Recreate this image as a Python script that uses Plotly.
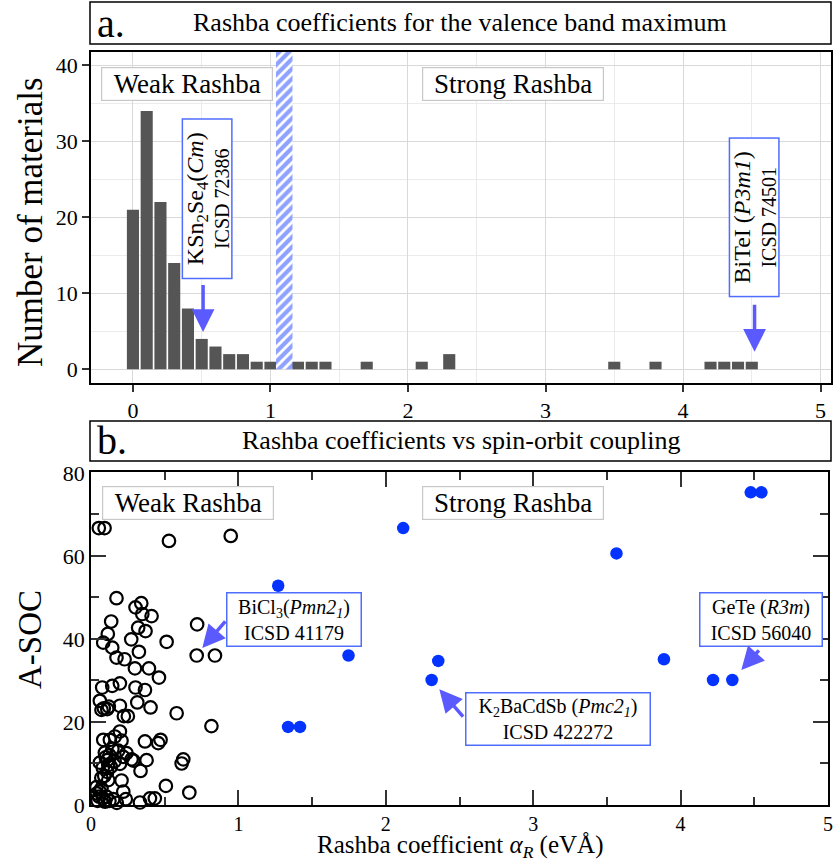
import plotly.graph_objects as go

# ---------------- data ----------------
# Panel a: histogram of Rashba coefficients (bin centres, counts)
hist_bins = [0.0, 0.1, 0.2, 0.3, 0.4, 0.5, 0.6, 0.7, 0.8, 0.9, 1.0,
             1.2, 1.3, 1.4, 1.7, 2.1, 2.3, 3.5, 3.8, 4.2, 4.3, 4.4, 4.5]
hist_counts = [21, 34, 22, 14, 8, 4, 3, 2, 2, 1, 1,
               1, 1, 1, 1, 1, 2, 1, 1, 1, 1, 1, 1]
threshold = 1.1  # weak / strong Rashba boundary

# Panel b: Rashba coefficient vs A-SOC
weak_x = [0.053, 0.092, 0.529, 0.948,
          0.173, 0.302, 0.341, 0.348, 0.411, 0.137,
          0.320, 0.370, 0.114, 0.720, 0.273, 0.513, 0.083,
          0.144, 0.325, 0.717, 0.841, 0.173, 0.228,
          0.298, 0.393, 0.461, 0.076, 0.144, 0.196, 0.302, 0.366,
          0.060, 0.087, 0.121, 0.196, 0.314, 0.404, 0.581, 0.223, 0.250, 0.817,
          0.071, 0.110,
          0.196, 0.083, 0.128, 0.162, 0.207, 0.366, 0.456, 0.472,
          0.094, 0.185, 0.241, 0.219, 0.275, 0.287, 0.060, 0.110, 0.117, 0.196,
          0.377, 0.626, 0.615, 0.336, 0.110, 0.117, 0.207, 0.508, 0.037, 0.071,
          0.056, 0.105, 0.151, 0.219, 0.236, 0.332, 0.400, 0.433, 0.667, 0.083, 0.060,
          0.100, 0.125, 0.080, 0.135, 0.090, 0.160, 0.045, 0.095, 0.125, 0.040,
          0.175, 0.145, 0.070]
weak_y = [66.7, 66.7, 63.6, 64.8,
          49.8, 47.6, 48.6, 46.0, 45.5, 44.2,
          42.7, 41.9, 41.2, 43.5, 39.9, 39.3, 39.1,
          37.9, 36.9, 36.0, 36.0, 35.5, 35.1,
          32.9, 32.9, 30.7, 28.3, 28.7, 29.3, 28.3, 27.7,
          25.1, 23.3, 23.7, 23.9, 24.7, 23.5, 22.1, 21.4, 21.4, 19.0,
          22.9, 23.1,
          17.7, 15.7, 15.7, 16.5, 15.5, 15.3, 14.9, 15.7,
          12.6, 13.1, 12.5, 11.6, 11.0, 10.7, 10.2, 10.8, 9.6, 9.9,
          10.8, 11.0, 10.0, 8.2, 8.0, 6.0, 5.9, 4.6, 4.3, 4.0,
          2.0, 2.0, 1.4, 3.2, 1.4, 0.6, 1.6, 1.6, 3.0, 1.6, 3.2,
          11.5, 12.0, 9.0, 9.2, 7.0, 10.5, 1.0, 0.8, 1.0, 2.8,
          0.5, 13.5, 6.5]
strong_x = [1.27, 1.747, 1.337, 1.418, 2.118, 3.565, 4.476, 4.548,
            2.356, 2.311, 3.887, 4.22, 4.351]
strong_y = [52.8, 36.0, 18.8, 18.8, 66.7, 60.6, 75.3, 75.3,
            34.7, 30.1, 35.1, 30.1, 30.1]

x_ticks_top = [0, 1, 2, 3, 4, 5]
y_ticks_top = [0, 10, 20, 30, 40]
x_ticks_bot = [0, 1, 2, 3, 4, 5]
y_ticks_bot = [0, 20, 40, 60, 80]

# ---------------- layout helpers ----------------
W, H = 833, 861
FONT = "Liberation Serif, Times New Roman, serif"
BLUE = "#0433ff"
ARROW = "#5a5aff"
BOXBLUE = "#4f6dff"


def px(x):
    return x / W


def py(y):
    return 1 - y / H


top_yrange = [-1.8, 41.75]

fig = go.Figure()

fig.add_trace(go.Bar(
    x=hist_bins, y=hist_counts, width=0.088,
    marker=dict(color="#555555", line=dict(width=0)),
    xaxis="x", yaxis="y", showlegend=False))

fig.add_trace(go.Bar(
    x=[threshold], y=[top_yrange[1]], width=0.12,
    marker=dict(color="white", line=dict(width=0),
                pattern=dict(shape="/", fgcolor="#1f46ff", bgcolor="white",
                             size=7, solidity=0.6)),
    xaxis="x", yaxis="y", showlegend=False))

fig.add_trace(go.Scatter(
    x=weak_x, y=weak_y, mode="markers",
    marker=dict(symbol="circle-open", size=12.5, color="black",
                line=dict(width=2.2, color="black")),
    xaxis="x2", yaxis="y2", showlegend=False, cliponaxis=False))

fig.add_trace(go.Scatter(
    x=strong_x, y=strong_y, mode="markers",
    marker=dict(symbol="circle", size=12.5, color=BLUE, line=dict(width=0)),
    xaxis="x2", yaxis="y2", showlegend=False, cliponaxis=False))

tickfont = dict(family=FONT, size=22, color="black")
tickfont_b = dict(family=FONT, size=20, color="black")

fig.update_layout(
    width=W, height=H,
    margin=dict(l=0, r=0, t=0, b=0),
    paper_bgcolor="white", plot_bgcolor="white",
    barmode="overlay",
    font=dict(family=FONT, color="black"),
    xaxis=dict(domain=[px(91), px(831)], range=[-0.305, 5.076],
               tickvals=x_ticks_top, ticks="outside", ticklen=7, tickwidth=1.5,
               tickcolor="#333", tickfont=tickfont,
               showline=True, linecolor="black", linewidth=1.5, mirror=True,
               showgrid=True, gridcolor="#d9d9d9", gridwidth=1.2,
               minor=dict(dtick=0.5, showgrid=True, gridcolor="#ebebeb", gridwidth=1.2),
               zeroline=False, anchor="y", automargin=False),
    yaxis=dict(domain=[py(383), py(52)], range=top_yrange,
               tickvals=y_ticks_top, ticks="outside", ticklen=7, tickwidth=1.5,
               tickcolor="#333", tickfont=tickfont,
               showline=True, linecolor="black", linewidth=1.5, mirror=True,
               showgrid=True, gridcolor="#d9d9d9", gridwidth=1.2,
               minor=dict(dtick=5, showgrid=True, gridcolor="#ebebeb", gridwidth=1.2),
               zeroline=False, anchor="x", automargin=False),
    xaxis2=dict(domain=[px(91), px(828)], range=[0, 5],
                tickvals=x_ticks_bot, ticks="inside", ticklen=15, tickwidth=1.5,
                tickcolor="#333", tickfont=tickfont_b, ticklabeloverflow="allow",
                minor=dict(dtick=0.5, ticks="inside", ticklen=8, tickwidth=1.5,
                           tickcolor="#333", showgrid=False),
                showline=True, linecolor="black", linewidth=1.5, mirror="allticks",
                showgrid=False, zeroline=False, anchor="y2", automargin=False),
    yaxis2=dict(domain=[py(805), py(472)], range=[0, 80.2],
                tickvals=y_ticks_bot, ticks="inside", ticklen=15, tickwidth=1.5,
                tickcolor="#333", tickfont=tickfont,
                minor=dict(dtick=10, ticks="inside", ticklen=8, tickwidth=1.5,
                           tickcolor="#333", showgrid=False),
                showline=True, linecolor="black", linewidth=1.5, mirror="allticks",
                showgrid=False, zeroline=False, anchor="x2", automargin=False),
)

# title boxes
shapes = [
    dict(type="rect", xref="paper", yref="paper", x0=px(90), x1=px(831),
         y0=py(44), y1=py(2), line=dict(color="black", width=1.5)),
    dict(type="rect", xref="paper", yref="paper", x0=px(90), x1=px(831),
         y0=py(461), y1=py(421), line=dict(color="black", width=1.5)),
]
fig.update_layout(shapes=shapes)

ann = []
# panel titles
ann.append(dict(xref="paper", yref="paper", x=px(95), y=py(23), xanchor="left",
                yanchor="middle", text="a.", showarrow=False,
                font=dict(family=FONT, size=40)))
ann.append(dict(xref="paper", yref="paper", x=px(460), y=py(22), xanchor="center",
                yanchor="middle", text="Rashba coefficients for the valence band maximum",
                showarrow=False, font=dict(family=FONT, size=26)))
ann.append(dict(xref="paper", yref="paper", x=px(95), y=py(440), xanchor="left",
                yanchor="middle", text="b.", showarrow=False,
                font=dict(family=FONT, size=40)))
ann.append(dict(xref="paper", yref="paper", x=px(461), y=py(440), xanchor="center",
                yanchor="middle", text="Rashba coefficients vs spin-orbit coupling",
                showarrow=False, font=dict(family=FONT, size=26)))
# axis titles
ann.append(dict(xref="paper", yref="paper", x=px(30), y=py(222), textangle=-90,
                xanchor="center", yanchor="middle", text="Number of materials",
                showarrow=False, font=dict(family=FONT, size=35)))
ann.append(dict(xref="paper", yref="paper", x=px(30), y=py(640), textangle=-90,
                xanchor="center", yanchor="middle", text="A-SOC",
                showarrow=False, font=dict(family=FONT, size=33)))
ann.append(dict(xref="paper", yref="paper", x=px(460), y=py(846), xanchor="center",
                yanchor="middle",
                text="Rashba coefficient <i>α<sub>R</sub></i> (eVÅ)",
                showarrow=False, font=dict(family=FONT, size=25)))

grey_box = dict(bordercolor="#c8c8c8", borderwidth=1.2, borderpad=0, bgcolor="white",
                showarrow=False, xanchor="center", yanchor="middle")
blue_box = dict(bordercolor=BOXBLUE, borderwidth=1.5, borderpad=0, bgcolor="white",
                showarrow=False, xanchor="center", yanchor="middle")

# Weak / strong labels
for xr, yr, xc, yc in [("x", "y", 0.393, 37.5), ("x2", "y2", 0.656, 72.8)]:
    ann.append(dict(xref=xr, yref=yr, x=xc, y=yc, text="Weak Rashba", width=170, height=32,
                    font=dict(family=FONT, size=27), **grey_box))
for xr, yr, xc, yc in [("x", "y", 2.764, 37.5), ("x2", "y2", 2.863, 72.8)]:
    ann.append(dict(xref=xr, yref=yr, x=xc, y=yc, text="Strong Rashba", width=180, height=32,
                    font=dict(family=FONT, size=27), **grey_box))

# material labels (panel a, rotated)
ann.append(dict(xref="x", yref="y", x=0.538, y=22.5, textangle=-90, width=158, height=48,
                text="<span style='font-size:24px'>KSn<sub>2</sub>Se<sub>4</sub>(<i>Cm</i>)</span>"
                     "<br>ICSD 72386",
                font=dict(family=FONT, size=20), **blue_box))
ann.append(dict(xref="x", yref="y", x=4.516, y=20.0, textangle=-90, width=157, height=48,
                text="<span style='font-size:24px'>BiTeI (<i>P3m1</i>)</span><br>ICSD 74501",
                font=dict(family=FONT, size=20), **blue_box))
# material labels (panel b)
ann.append(dict(xref="x2", yref="y2", x=1.379, y=44.6, width=133, height=52,
                text="BiCl<sub>3</sub>(<i>Pmn2<sub>1</sub></i>)<br>ICSD 41179",
                font=dict(family=FONT, size=20), **blue_box))
ann.append(dict(xref="x2", yref="y2", x=3.166, y=20.8, width=183, height=51,
                text="K<sub>2</sub>BaCdSb (<i>Pmc2<sub>1</sub></i>)<br>ICSD 422272",
                font=dict(family=FONT, size=20), **blue_box))
ann.append(dict(xref="x2", yref="y2", x=4.545, y=44.6, width=121, height=52,
                text="GeTe (<i>R3m</i>)<br>ICSD 56040",
                font=dict(family=FONT, size=20), **blue_box))

# arrows
arrows = [
    ("x", "y", 0.51, 4.9, 0.51, 11.3),
    ("x", "y", 4.52, 2.3, 4.52, 8.7),
    ("x2", "y2", 0.755, 37.8, 0.92, 44.6),
    ("x2", "y2", 2.363, 27.9, 2.533, 20.9),
    ("x2", "y2", 4.412, 32.5, 4.54, 37.6),
]
for xr, yr, x, y, ax, ay in arrows:
    ann.append(dict(xref=xr, yref=yr, axref=xr, ayref=yr, x=x, y=y, ax=ax, ay=ay,
                    text="", showarrow=True, arrowhead=2, arrowsize=1.3,
                    arrowwidth=3.5, arrowcolor=ARROW, standoff=0, startstandoff=0))

fig.update_layout(annotations=ann)

fig.write_html("out.html",
               config={"displayModeBar": False},
               post_script="document.body.style.margin='0';"
                           "document.body.style.overflow='hidden';")
